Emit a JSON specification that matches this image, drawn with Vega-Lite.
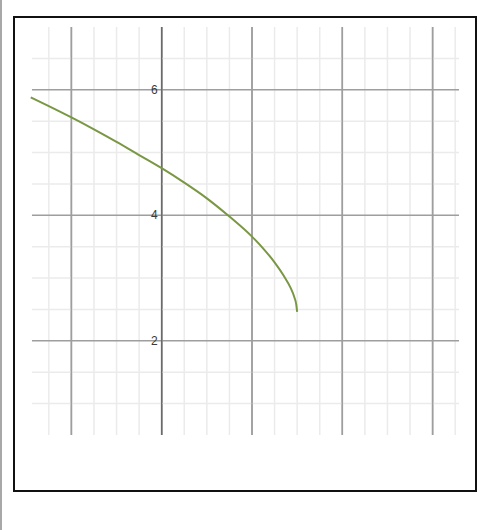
{
  "$schema": "https://vega.github.io/schema/vega-lite/v6.json",
  "width": 462,
  "height": 474,
  "autosize": {"type": "none"},
  "padding": {"left": 14, "top": 17, "right": 4, "bottom": 39},
  "background": "white",
  "config": {
    "view": {"stroke": "#111111", "strokeWidth": 2},
    "axis": {"disable": true}
  },
  "datasets": {
    "curve": [
      {"x": -2.9, "y": 5.88},
      {"x": -2.5, "y": 5.74},
      {"x": -2.0, "y": 5.56},
      {"x": -1.5, "y": 5.37},
      {"x": -1.0, "y": 5.17},
      {"x": -0.5, "y": 4.96},
      {"x": 0.0, "y": 4.75},
      {"x": 0.5, "y": 4.52},
      {"x": 1.0, "y": 4.27},
      {"x": 1.5, "y": 3.98},
      {"x": 2.0, "y": 3.66},
      {"x": 2.25, "y": 3.47},
      {"x": 2.5, "y": 3.25},
      {"x": 2.7, "y": 3.04},
      {"x": 2.85, "y": 2.85},
      {"x": 2.94, "y": 2.69},
      {"x": 2.98, "y": 2.58},
      {"x": 3.0, "y": 2.46}
    ],
    "vlines": [
      {"x": -2.5, "kind": "minor"}, {"x": -1.5, "kind": "minor"}, {"x": -1.0, "kind": "minor"},
      {"x": -0.5, "kind": "minor"}, {"x": 0.5, "kind": "minor"}, {"x": 1.0, "kind": "minor"},
      {"x": 1.5, "kind": "minor"}, {"x": 2.5, "kind": "minor"}, {"x": 3.0, "kind": "minor"},
      {"x": 3.5, "kind": "minor"}, {"x": 4.5, "kind": "minor"}, {"x": 5.0, "kind": "minor"},
      {"x": 5.5, "kind": "minor"}, {"x": 6.5, "kind": "minor"},
      {"x": -2.0, "kind": "major"}, {"x": 2.0, "kind": "major"}, {"x": 4.0, "kind": "major"},
      {"x": 6.0, "kind": "major"}, {"x": 0.0, "kind": "axis"}
    ],
    "hlines": [
      {"y": 1.0, "kind": "minor"}, {"y": 1.5, "kind": "minor"}, {"y": 2.5, "kind": "minor"},
      {"y": 3.0, "kind": "minor"}, {"y": 3.5, "kind": "minor"}, {"y": 4.5, "kind": "minor"},
      {"y": 5.0, "kind": "minor"}, {"y": 5.5, "kind": "minor"}, {"y": 6.5, "kind": "minor"},
      {"y": 2.0, "kind": "major"}, {"y": 4.0, "kind": "major"}, {"y": 6.0, "kind": "major"}
    ],
    "labels": [
      {"y": 2, "text": "2"},
      {"y": 4, "text": "4"},
      {"y": 6, "text": "6"}
    ],
    "edge": [
      {"x": -3.559, "y": 7.431, "y2": -1.015}
    ]
  },
  "layer": [
    {
      "data": {"name": "vlines"},
      "mark": {"type": "rule", "strokeWidth": 1.5},
      "encoding": {
        "x": {"field": "x", "type": "quantitative", "scale": {"domain": [-3.271, 6.961], "nice": false, "zero": false}},
        "y": {"datum": 7.0, "type": "quantitative", "scale": {"domain": [-0.394, 7.16], "nice": false, "zero": false}},
        "y2": {"datum": 0.5},
        "color": {
          "field": "kind", "type": "nominal", "legend": null,
          "scale": {"domain": ["minor", "major", "axis"], "range": ["#ebebeb", "#9e9e9e", "#6a6a6a"]}
        }
      }
    },
    {
      "data": {"name": "hlines"},
      "mark": {"type": "rule", "strokeWidth": 1.5},
      "encoding": {
        "y": {"field": "y", "type": "quantitative"},
        "x": {"datum": -2.873, "type": "quantitative"},
        "x2": {"datum": 6.585},
        "color": {"field": "kind", "type": "nominal", "legend": null}
      }
    },
    {
      "data": {"name": "vlines"},
      "transform": [{"filter": "datum.kind !== 'minor'"}],
      "mark": {"type": "rule", "strokeWidth": 1.5},
      "encoding": {
        "x": {"field": "x", "type": "quantitative"},
        "y": {"datum": 7.0, "type": "quantitative"},
        "y2": {"datum": 0.5},
        "color": {"field": "kind", "type": "nominal", "legend": null}
      }
    },
    {
      "data": {"name": "curve"},
      "mark": {"type": "line", "color": "#7a9744", "strokeWidth": 2, "interpolate": "monotone"},
      "encoding": {
        "x": {"field": "x", "type": "quantitative"},
        "y": {"field": "y", "type": "quantitative"}
      }
    },
    {
      "data": {"name": "labels"},
      "mark": {"type": "text", "align": "right", "baseline": "middle", "dx": -4, "fontSize": 12, "font": "Liberation Sans", "fill": "#3a3a3a"},
      "encoding": {
        "x": {"datum": 0, "type": "quantitative"},
        "y": {"field": "y", "type": "quantitative"},
        "text": {"field": "text"}
      }
    },
    {
      "data": {"name": "edge"},
      "mark": {"type": "rule", "color": "#a8a8a8", "strokeWidth": 2},
      "encoding": {
        "x": {"field": "x", "type": "quantitative"},
        "y": {"field": "y", "type": "quantitative"},
        "y2": {"field": "y2"}
      }
    }
  ]
}
